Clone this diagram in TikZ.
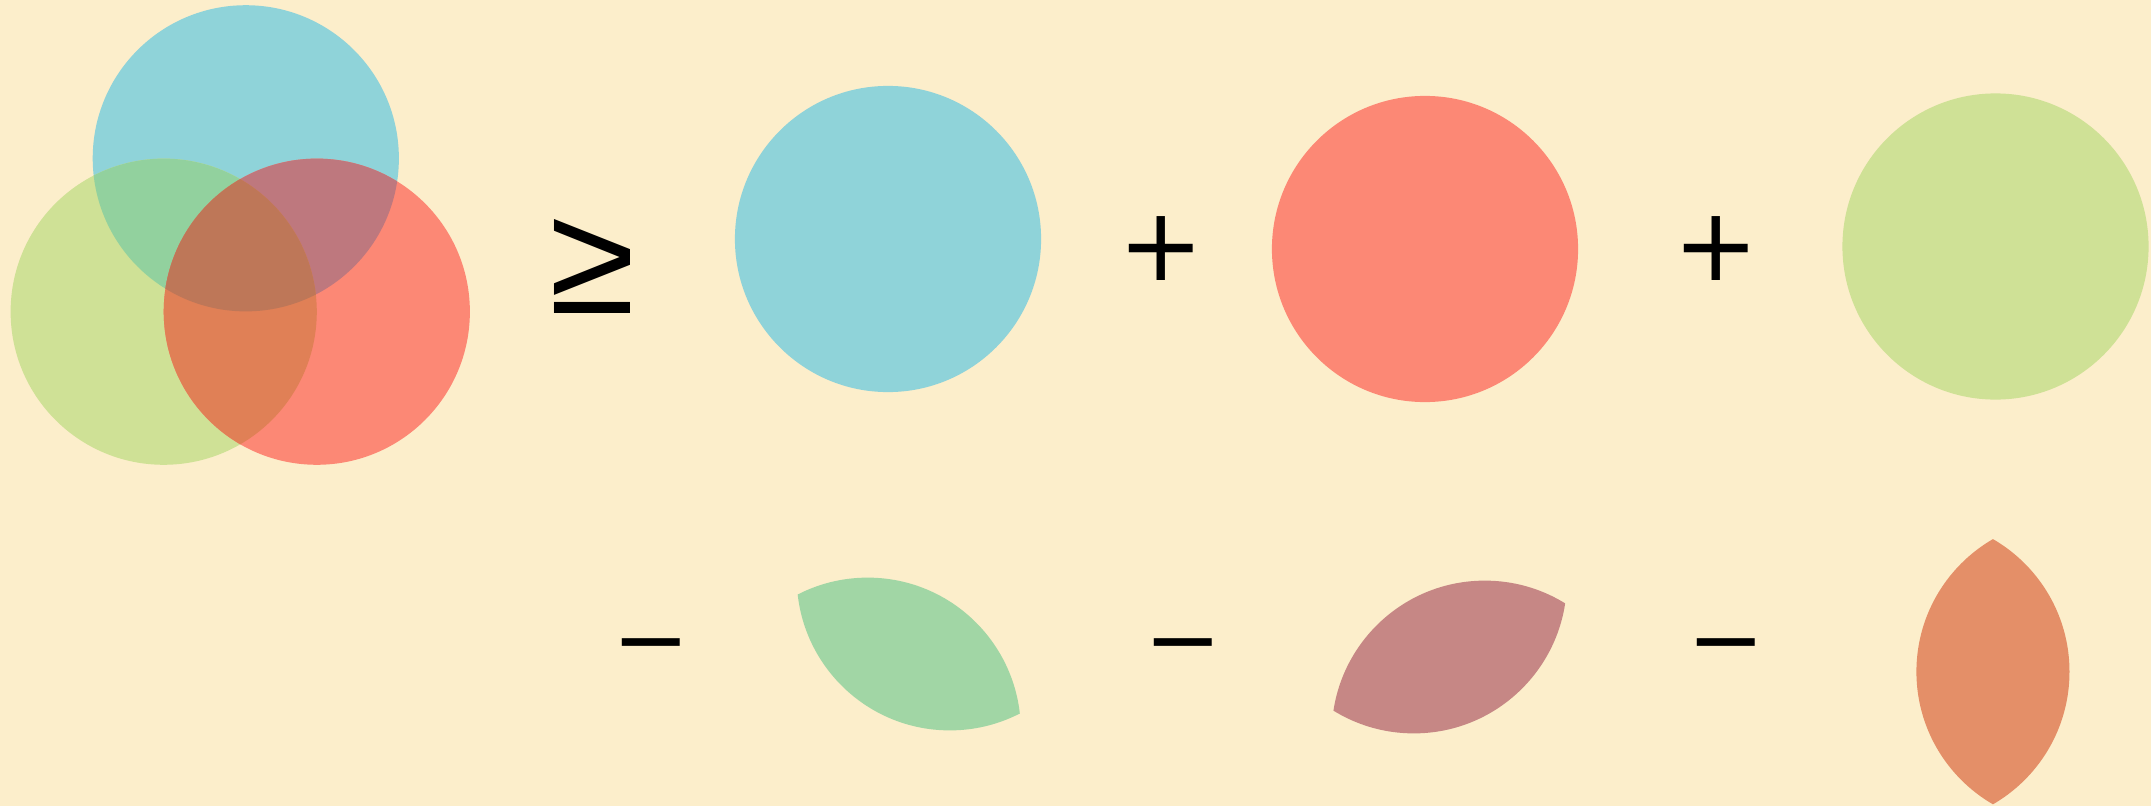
\documentclass[tikz,border=0pt]{standalone}
\usepackage{fontspec}
\setmainfont{DejaVu Sans}
\newfontfamily\libsans{Liberation Sans}
\usetikzlibrary{calc}
\definecolor{bgc}{RGB}{252,238,203}
\definecolor{cblue}{RGB}{143,211,217}
\definecolor{cred}{RGB}{252,136,117}
\definecolor{cgreen}{RGB}{207,225,150}
\definecolor{cbgx}{RGB}{146,209,158}
\definecolor{cbrx}{RGB}{190,120,126}
\definecolor{cgrx}{RGB}{224,128,86}
\definecolor{call}{RGB}{190,119,88}
\definecolor{lgreen}{RGB}{161,214,165}
\definecolor{lpink}{RGB}{198,135,133}
\definecolor{lorange}{RGB}{228,143,104}
\begin{document}
\begin{tikzpicture}[x=0.01cm,y=-0.01cm,
  sym/.style={inner sep=0pt, outer sep=0pt, text=black},
  plussym/.style={sym, font=\fontsize{29}{34}\selectfont},
  minussym/.style={sym, font=\fontsize{26.3}{30}\selectfont},
  geqsym/.style={sym, font=\libsans\fontsize{44.5}{50}\selectfont}]
\def\R{1.53cm}
\useasboundingbox (0,0) rectangle (2151,806);
\fill[bgc] (0,0) rectangle (2151,806);
% Venn diagram
\coordinate (vB) at (245.8,158.3);
\coordinate (vG) at (163.7,311.7);
\coordinate (vR) at (316.8,311.7);
\fill[cblue] (vB) circle[radius=\R];
\fill[cgreen] (vG) circle[radius=\R];
\fill[cred] (vR) circle[radius=\R];
\begin{scope}\clip (vB) circle[radius=\R]; \fill[cbgx] (vG) circle[radius=\R];\end{scope}
\begin{scope}\clip (vB) circle[radius=\R]; \fill[cbrx] (vR) circle[radius=\R];\end{scope}
\begin{scope}\clip (vG) circle[radius=\R]; \fill[cgrx] (vR) circle[radius=\R];\end{scope}
\begin{scope}\clip (vB) circle[radius=\R]; \clip (vG) circle[radius=\R]; \fill[call] (vR) circle[radius=\R];\end{scope}
% single circles
\coordinate (sB) at (888,239);
\coordinate (sR) at (1425,249);
\coordinate (sG) at (1995.5,246.5);
\fill[cblue] (sB) circle[radius=\R];
\fill[cred] (sR) circle[radius=\R];
\fill[cgreen] (sG) circle[radius=\R];
% lenses
\coordinate (l1a) at ($(vB)+(704,419)$);
\coordinate (l1b) at ($(vG)+(704,419)$);
\coordinate (l2a) at ($(vB)+(1168,422)$);
\coordinate (l2b) at ($(vR)+(1168,422)$);
\coordinate (l3a) at ($(vG)+(1752.7,360)$);
\coordinate (l3b) at ($(vR)+(1752.7,360)$);
\begin{scope}\clip (l1a) circle[radius=\R]; \fill[lgreen] (l1b) circle[radius=\R];\end{scope}
\begin{scope}\clip (l2a) circle[radius=\R]; \fill[lpink] (l2b) circle[radius=\R];\end{scope}
\begin{scope}\clip (l3a) circle[radius=\R]; \fill[lorange] (l3b) circle[radius=\R];\end{scope}
% symbols
\node[geqsym] (geq) at (592,266) {≥};
\node[plussym] (plusA) at (1161,248.5) {+};
\node[plussym] (plusB) at (1716.5,248.5) {+};
\node[minussym] (minusA) at (651,655.5) {−};
\node[minussym] (minusB) at (1183,655.5) {−};
\node[minussym] (minusC) at (1726,655.5) {−};
\end{tikzpicture}
\end{document}
